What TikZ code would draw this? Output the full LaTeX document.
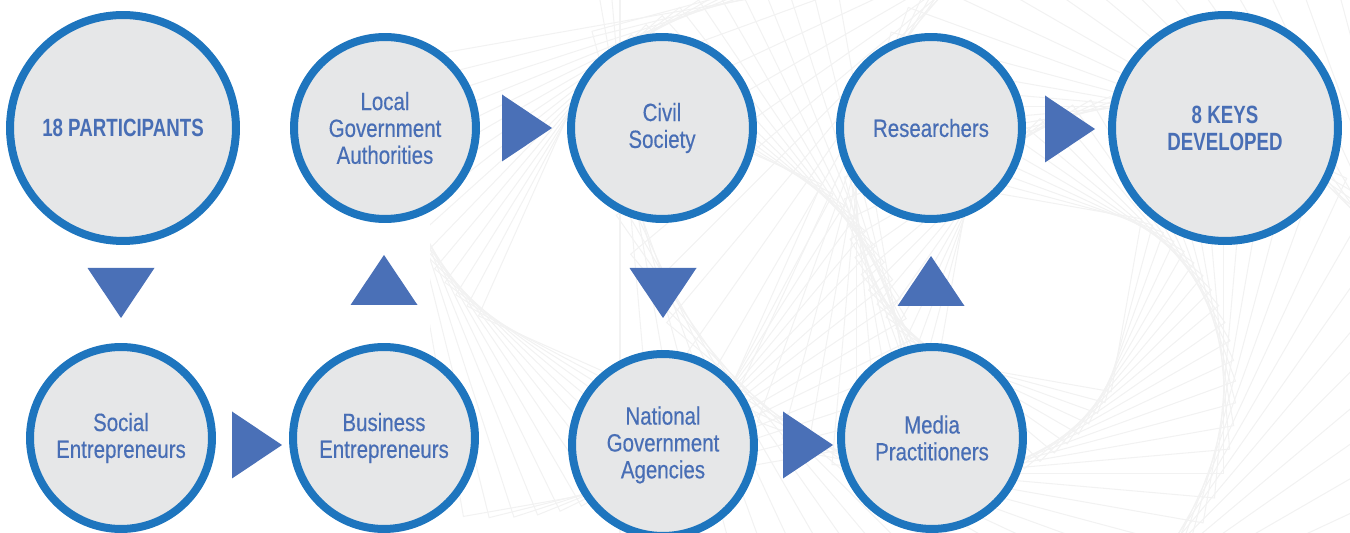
\documentclass[tikz,border=0pt]{standalone}
\usepackage{fontspec}
\newfontfamily\circfont[FakeStretch=0.82,FakeBold=0.4]{Liberation Sans}
\newfontfamily\circbold[FakeStretch=0.75]{Liberation Sans Bold}
\definecolor{ringblue}{RGB}{30,117,190}
\definecolor{triblue}{RGB}{74,112,183}
\definecolor{textblue}{RGB}{72,110,181}
\definecolor{discgray}{RGB}{230,231,232}
\tikzset{
  disc/.style={draw=ringblue,fill=discgray,circle,line width=0.16cm,inner sep=0,
    minimum size=3.64cm,align=center,text=textblue,
    font=\circfont\fontsize{14.2}{15.3}\selectfont},
  bigdisc/.style={disc,minimum size=4.52cm,font=\circbold\fontsize{14.2}{15.3}\selectfont},
  tri/.style={fill=triblue},
  swirl/.style={draw=black!5,line width=0.6pt}
}

\begin{document}
\begin{tikzpicture}[x=0.02cm,y=-0.02cm]
  \useasboundingbox (0,0) rectangle (1350,533);

  % faint background lines
  \begin{scope}
    \clip (430,0) rectangle (1350,533);
    \foreach \i in {0,...,34} {
      \draw[swirl,shift={(1040,290)},rotate=\i*5,scale={0.955^\i}]
        (-420,-420) rectangle (420,420);
    }
    \foreach \i in {0,...,14} {
      \draw[swirl,shift={(650,250)},rotate=\i*4+10,scale={0.96^\i}]
        (-230,-230) rectangle (230,230);
    }
  \end{scope}

  \node[bigdisc] (part) at (123,128) {\raisebox{-3pt}{18 PARTICIPANTS}};
  \node[disc] (local) at (385,128) {Local\\Government\\Authorities};
  \node[disc] (civil) at (662,128) {Civil\\Society};
  \node[disc] (res) at (931,128) {Researchers};
  \node[bigdisc] (keys) at (1225,128) {8 KEYS\\DEVELOPED};
  \node[disc] (social) at (121,438) {Social\\Entrepreneurs};
  \node[disc] (business) at (384,438) {Business\\Entrepreneurs};
  \node[disc] (national) at (663,445) {National\\Government\\Agencies};
  \node[disc] (media) at (932,438) {Media\\Practitioners};

  % flow triangles: x / y / direction
  \foreach \x/\y/\a in {121/293/-90, 257/445/0, 384/280/90, 527/128/0,
                        663/293/-90, 808/445/0, 931/281/90, 1070/129/0} {
    \fill[tri,shift={(\x,\y)},rotate=\a] (-25,-33.5) -- (25,0) -- (-25,33.5) -- cycle;
  }
\end{tikzpicture}
\end{document}
